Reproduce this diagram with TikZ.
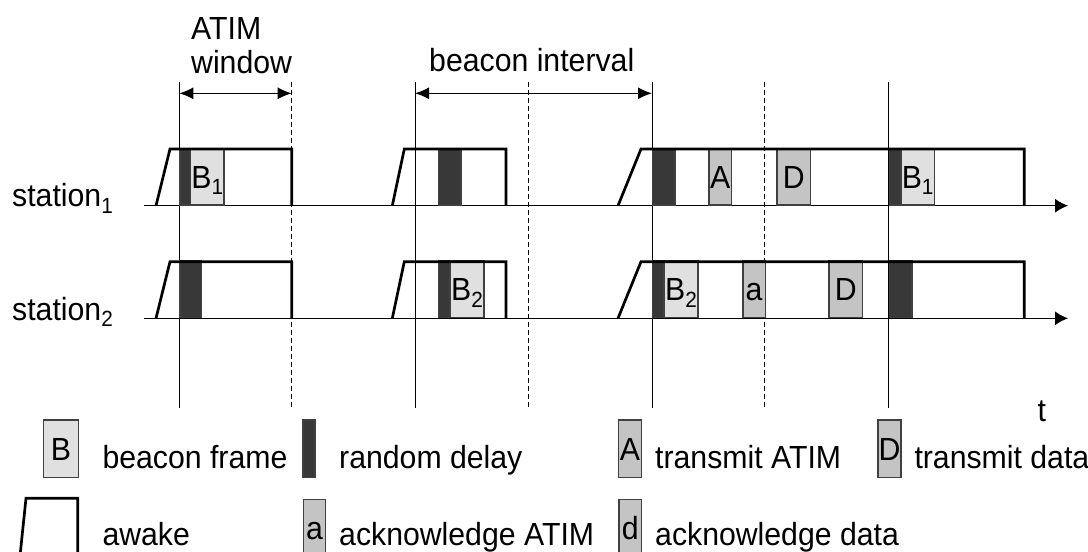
\documentclass[tikz,border=0pt]{standalone}
\usepackage{fontspec}
\setmainfont{Liberation Sans}[FakeStretch=0.945]
\usetikzlibrary{arrows.meta}

\definecolor{delayfill}{HTML}{383838}
\definecolor{beaconfill}{HTML}{E0E0E0}
\definecolor{msgfill}{HTML}{C4C4C4}
\definecolor{boxedge}{HTML}{404040}

\newcommand\lowsub[1]{\raisebox{-6.5pt}{\fontsize{22}{22}\selectfont #1}}

\begin{document}
\begin{tikzpicture}[x=1pt,y=-1pt,
  every node/.style={font=\fontsize{32}{34}\selectfont, inner sep=0pt},
  slot/.style={draw=boxedge, line width=1.3pt, minimum height=56.7pt, anchor=south west,
    text height=23pt, text depth=0pt},
  delaybox/.style={slot, fill=delayfill},
  beaconbox/.style={slot, fill=beaconfill},
  msgbox/.style={slot, fill=msgfill},
  awake/.style={line width=2.7pt, line join=miter},
  timeline/.style={line width=1.3pt, -{Latex[length=13pt,width=14pt]}},
  span/.style={line width=1.3pt, {Latex[length=14pt,width=12pt]}-{Latex[length=14pt,width=12pt]}},
  markline/.style={line width=1pt},
  halfline/.style={line width=1pt, dash pattern=on 5pt off 3pt}]
  \useasboundingbox (0,0) rectangle (1088,552);
  \clip (0,0) rectangle (1088,552);

  % time markers
  \foreach \x in {179.3,415,652,888.7}
    \draw[markline] (\x,81.7) -- (\x,408.3);
  \foreach \x in {291.7,528.3,764.6}
    \draw[halfline] (\x,81.7) -- (\x,408.3);

  % labels on top
  \node[anchor=base west, align=left] (atimlabel) at (191,73.3) {ATIM\\window};
  \node[anchor=base west] (bilabel) at (429,71.7) {beacon interval};
  \coordinate (aw-l) at (179.3,93.3);
  \coordinate (aw-r) at (291.7,93.3);
  \coordinate (bi-l) at (415,93.3);
  \coordinate (bi-r) at (652,93.3);
  \draw[span] (aw-l) -- (aw-r);
  \draw[span] (bi-l) -- (bi-r);

  % stations
  \node[anchor=base west] (st1) at (12,206.8) {station\lowsub{1}};
  \node[anchor=base west] (st2) at (12,320.3) {station\lowsub{2}};
  \coordinate (ax1-s) at (144,205.7);
  \coordinate (ax1-e) at (1068,205.7);
  \coordinate (ax2-s) at (144,318.3);
  \coordinate (ax2-e) at (1068,318.3);
  \draw[timeline] (ax1-s) -- (ax1-e);
  \draw[timeline] (ax2-s) -- (ax2-e);
  \node[anchor=base] (tlabel) at (1041.7,421.7) {t};

  % station 1
  \node[delaybox, minimum width=10.7pt] (d1a) at (179.3,205.7) {};
  \node[beaconbox, minimum width=33.3pt] (b1a) at (190,205.7) {B\lowsub{1}};
  \node[delaybox, minimum width=22.6pt] (d1b) at (437.7,205.7) {};
  \node[delaybox, minimum width=22.6pt] (d1c) at (651.7,205.7) {};
  \node[msgbox, minimum width=22.7pt] (atim1) at (708.3,205.7) {A};
  \node[msgbox, minimum width=33.7pt] (data1) at (776.3,205.7) {D};
  \node[delaybox, minimum width=11.3pt] (d1d) at (888.7,205.7) {};
  \node[beaconbox, minimum width=33.4pt] (b1d) at (900.3,205.7) {B\lowsub{1}};

  % station 2
  \node[delaybox, minimum width=21.7pt] (d2a) at (179.3,318.3) {};
  \node[delaybox, minimum width=11.6pt] (d2b) at (437.7,318.3) {};
  \node[beaconbox, minimum width=34pt] (b2b) at (449.3,318.3) {B\lowsub{2}};
  \node[delaybox, minimum width=11.6pt] (d2c) at (651.7,318.3) {};
  \node[beaconbox, minimum width=34pt] (b2c) at (663.3,318.3) {B\lowsub{2}};
  \node[msgbox, minimum width=22.3pt] (ack2) at (742.3,318.3) {a};
  \node[msgbox, minimum width=33.7pt] (data2) at (828.3,318.3) {D};
  \node[delaybox, minimum width=22.7pt] (d2d) at (888.7,318.3) {};

  % awake periods
  \foreach \Y/\T in {205.7/149, 318.3/261.7} {
    \draw[awake] (156,\Y) -- (170,\T) -- (291.7,\T) -- (291.7,\Y);
    \draw[awake] (392.3,\Y) -- (404.3,\T) -- (506,\T) -- (506,\Y);
    \draw[awake] (618,\Y) -- (641,\T) -- (1024.3,\T) -- (1024.3,\Y);
  }

  % legend
  \node[beaconbox, anchor=north west, minimum width=35pt, minimum height=57.4pt] (lgb) at (42.7,419.3) {B};
  \node[anchor=base west] (lgbtext) at (102.3,468.3) {beacon frame};
  \node[delaybox, anchor=north west, minimum width=12pt, minimum height=57.4pt] (lgdelay) at (302.3,419.3) {};
  \node[anchor=base west] (lgdelaytext) at (339,468.3) {random delay};
  \node[msgbox, anchor=north west, minimum width=23.3pt, minimum height=57.4pt] (lgA) at (617.7,419.3) {A};
  \node[anchor=base west] (lgAtext) at (655,468.3) {transmit ATIM};
  \node[msgbox, anchor=north west, minimum width=23pt, minimum height=57.4pt] (lgD) at (877.3,419.3) {D};
  \node[anchor=base west] (lgDtext) at (914.3,468.3) {transmit data};
  \draw[awake] (20,556) -- (26,498.3) -- (77.7,498.3) -- (77.7,556);
  \node[anchor=base west] (lgawake) at (102.3,545.7) {awake};
  \node[msgbox, anchor=north west, minimum width=22.3pt, minimum height=57.4pt] (lga) at (302.7,498.5) {a};
  \node[anchor=base west] (lgatext) at (339,545.5) {acknowledge ATIM};
  \node[msgbox, anchor=north west, minimum width=22.7pt, minimum height=57.4pt] (lgd) at (618.3,498.8) {d};
  \node[anchor=base west] (lgdtext) at (655,545.3) {acknowledge data};
\end{tikzpicture}
\end{document}
